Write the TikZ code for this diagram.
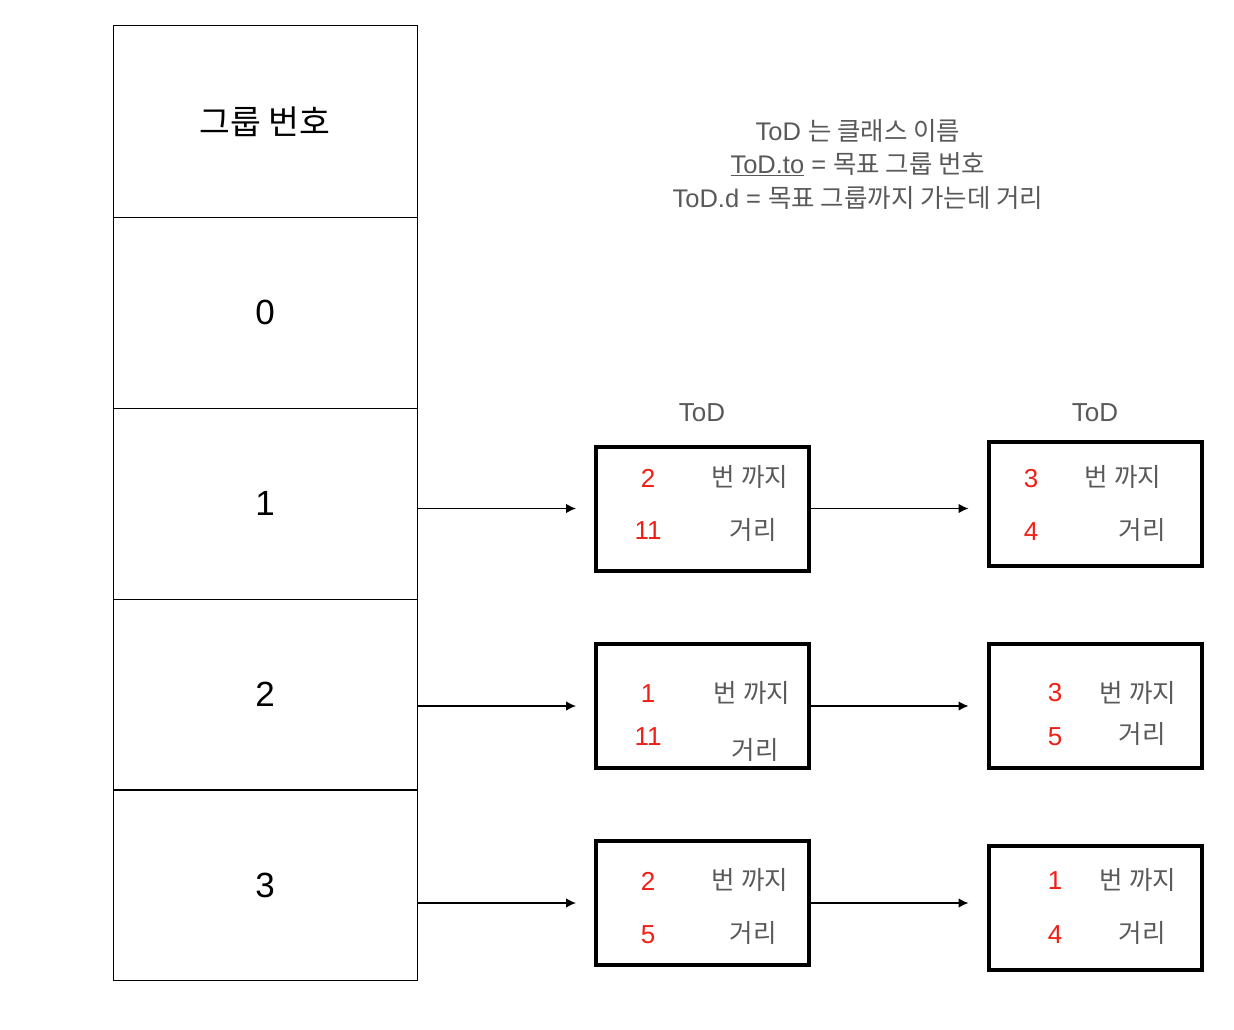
\documentclass[tikz,border=0pt]{standalone}
\usepackage{fontspec}
\setmainfont{Liberation Sans}
\newfontfamily\kr{Noto Sans CJK KR}
\usetikzlibrary{arrows.meta,calc}
\definecolor{txtgray}{HTML}{595959}
\definecolor{numred}{HTML}{F01E14}
\begin{document}
\begin{tikzpicture}[x=1pt,y=-1pt,
  cell/.style={draw=black,line width=1pt,minimum width=304pt,minimum height=191pt,inner sep=0pt,font=\fontsize{35}{40}\selectfont},
  todbox/.style={draw=black,line width=4pt,minimum width=213pt,minimum height=124pt,inner sep=0pt},
  num/.style={text=numred,font=\fontsize{26}{30}\selectfont,inner sep=0pt},
  lab/.style={text=txtgray,font=\fontsize{25.5}{30}\selectfont\kr,inner sep=0pt},
  captxt/.style={text=txtgray,font=\fontsize{26}{30}\selectfont,inner sep=0pt},
  arr/.style={line width=1.3pt,-{Latex[length=10pt,width=9.5pt]}}]
\useasboundingbox (0,0) rectangle (1234,1030);
% left column
\node[cell] (h) at (265,121.5) {\fontsize{33.5}{40}\selectfont\kr 그룹 번호};
\node[cell] (r0) at (265,312.5) {0};
\node[cell] (r1) at (265,503.5) {1};
\node[cell] (r2) at (265,694.5) {2};
\node[cell] (r3) at (265,885) {3};
% legend
\node[captxt,align=center,font=\fontsize{25.5}{33.5}\selectfont] (legend) at (858,164)
  {ToD {\kr 는 클래스 이름}\\ \underline{ToD.to} = {\kr 목표 그룹 번호}\\ ToD.d = {\kr 목표 그룹까지 가는데 거리}};
% ToD captions
\node[captxt] (t1) at (702,413) {ToD};
\node[captxt] (t2) at (1095,413) {ToD};
% boxes
\node[todbox] (A1) at (702.5,508.5) {};
\node[todbox] (A2) at (1095,504) {};
\node[todbox] (B1) at (702.5,706) {};
\node[todbox] (B2) at (1095,706) {};
\node[todbox] (C1) at (702.5,903) {};
\node[todbox] (C2) at (1095,907.5) {};
% box contents
\node[num] (a1n) at (648,478) {2};
\node[lab] (a1b) at (750,477) {번 까지};
\node[num] (a1d) at (648,531) {11};
\node[lab] (a1g) at (753,530) {거리};
\node[num] (a2n) at (1031,479) {3};
\node[lab] (a2b) at (1123,477) {번 까지};
\node[num] (a2d) at (1031,532) {4};
\node[lab] (a2g) at (1142,530) {거리};
\node[num] (b1n) at (648,694) {1};
\node[lab] (b1b) at (752,693) {번 까지};
\node[num] (b1d) at (648,737) {11};
\node[lab] (b1g) at (755,750) {거리};
\node[num] (b2n) at (1055,693) {3};
\node[lab] (b2b) at (1138,693) {번 까지};
\node[num] (b2d) at (1055,737) {5};
\node[lab] (b2g) at (1142,734) {거리};
\node[num] (c1n) at (648,881) {2};
\node[lab] (c1b) at (750,880) {번 까지};
\node[num] (c1d) at (648,935) {5};
\node[lab] (c1g) at (753,933) {거리};
\node[num] (c2n) at (1055,881) {1};
\node[lab] (c2b) at (1138,880) {번 까지};
\node[num] (c2d) at (1055,935) {4};
\node[lab] (c2g) at (1142,933) {거리};
% arrow ends
\coordinate (e1) at ($(A1.west)+(-18,0)$);
\coordinate (e2) at ($(A2.west)+(-18,0)$);
% arrows
\draw[arr] (r1.east |- A1.west) -- (e1 |- A1.west);
\draw[arr] (r2.east |- B1.west) -- (e1 |- B1.west);
\draw[arr] (r3.east |- C1.west) -- (e1 |- C1.west);
\draw[arr] (A1.east) -- (e2 |- A1.east);
\draw[arr] (B1.east) -- (e2 |- B1.east);
\draw[arr] (C1.east) -- (e2 |- C1.east);
\end{tikzpicture}
\end{document}
